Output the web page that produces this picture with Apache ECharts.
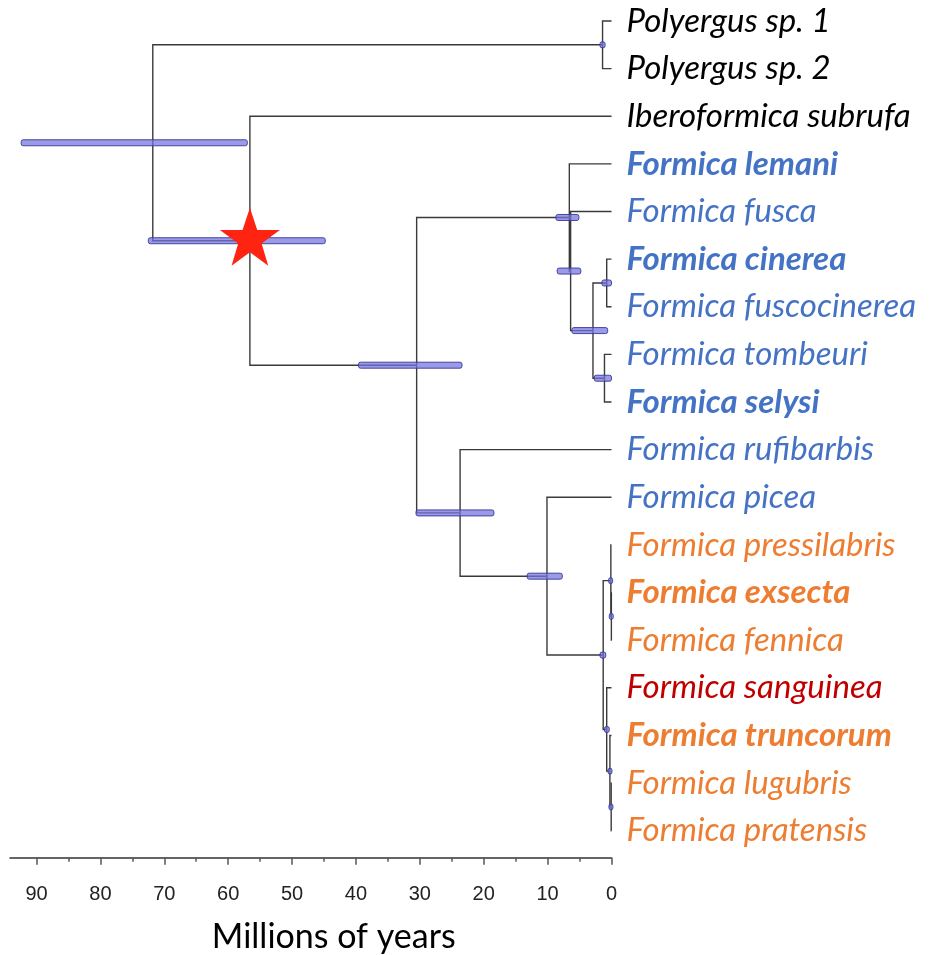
<!DOCTYPE html>
<html>
<head>
<meta charset="utf-8">
<script src="https://cdn.jsdelivr.net/npm/echarts@6/dist/echarts.min.js"></script>
<style>
  html, body { margin: 0; padding: 0; background: #fff; }
  #chart { width: 947px; height: 955px; }
</style>
</head>
<body>
<div id="chart"></div>
<script>
// tips, top to bottom
const leafNames = [
  'Polyergus sp. 1', 'Polyergus sp. 2', 'Iberoformica subrufa',
  'Formica lemani', 'Formica fusca', 'Formica cinerea', 'Formica fuscocinerea',
  'Formica tombeuri', 'Formica selysi', 'Formica rufibarbis', 'Formica picea',
  'Formica pressilabris', 'Formica exsecta', 'Formica fennica', 'Formica sanguinea',
  'Formica truncorum', 'Formica lugubris', 'Formica pratensis'
];
const leafColors = [
  '#000000', '#000000', '#000000',
  '#4472C4', '#4472C4', '#4472C4', '#4472C4', '#4472C4', '#4472C4', '#4472C4', '#4472C4',
  '#ED7D31', '#ED7D31', '#ED7D31', '#C00000', '#ED7D31', '#ED7D31', '#ED7D31'
];
const leafBold = [0, 0, 0, 1, 0, 1, 0, 0, 1, 0, 0, 0, 1, 0, 0, 1, 0, 0];

// internal nodes (ages in Myr), children = leaf index or node name
const nodeNames = ['root', 'P', 'IF', 'F', 'FG1', 'FG2', 'FG3', 'CIN', 'TOM', 'RUF', 'PIC', 'RED', 'PEF', 'EF', 'SANG', 'TR', 'LP'];
const nodeAges  = [71.8, 1.4, 56.6, 30.5, 6.6, 6.4, 2.9, 0.75, 1.1, 23.7, 10.1, 1.3, 0.1, 0.02, 0.75, 0.25, 0.05];
const nodeKids  = [['P', 'IF'], [0, 1], [2, 'F'], ['FG1', 'RUF'], [3, 'FG2'], [4, 'FG3'], ['CIN', 'TOM'], [5, 6], [7, 8],
                   [9, 'PIC'], [10, 'RED'], ['PEF', 'SANG'], [11, 'EF'], [12, 13], [14, 'TR'], [15, 'LP'], [16, 17]];
// 95% HPD bars
const barHigh = [92.4, 1.8, 72.5, 39.6, 8.7, 8.5, 6.2, 1.5, 2.7, 30.6, 13.2, 1.8, 0.45, 0.35, 1.1, 0.55, 0.4];
const barLow  = [57.0, 1.0, 44.8, 23.4, 5.1, 4.8, 0.6, 0.0, 0.0, 18.4, 7.7, 0.9, 0.0, 0.0, 0.35, 0.0, 0.0];

const majorTicks = [0, 10, 20, 30, 40, 50, 60, 70, 80, 90];
const minorTicks = [5, 15, 25, 35, 45, 55, 65, 75, 85];
const starNode = 'IF';

// layout of the tree
const nodeY = {};
function yOf(k) {
  if (typeof k === 'number') return k;
  if (nodeY[k] === undefined) {
    const i = nodeNames.indexOf(k);
    nodeY[k] = (yOf(nodeKids[i][0]) + yOf(nodeKids[i][1])) / 2;
  }
  return nodeY[k];
}
function ageOf(k) {
  return typeof k === 'number' ? 0 : nodeAges[nodeNames.indexOf(k)];
}

const branches = [];
nodeNames.forEach((n, i) => {
  const py = yOf(n);
  nodeKids[i].forEach(k => {
    branches.push({ coords: [[nodeAges[i], py], [nodeAges[i], yOf(k)], [ageOf(k), yOf(k)]] });
  });
});
const bars = nodeNames.map((n, i) => [barHigh[i], barLow[i], yOf(n)]);
const leaves = leafNames.map((name, i) => ({
  value: [0, i],
  name: name,
  label: { color: leafColors[i], fontWeight: leafBold[i] ? 'bold' : 'normal' }
}));

const chart = echarts.init(document.getElementById('chart'));
const ageMax = 94.15;

chart.setOption({
  animation: false,
  grid: { left: 10, right: 335.5, top: 0, bottom: 97.3, outerBoundsMode: 'none', containLabel: false },
  xAxis: [{
    type: 'value', inverse: true, min: 0, max: ageMax, position: 'bottom',
    splitLine: { show: false },
    axisLine: { onZero: false, lineStyle: { color: '#333', width: 1.5 } },
    axisTick: { customValues: majorTicks, length: 7, lineStyle: { color: '#555', width: 1.5 } },
    axisLabel: { customValues: majorTicks, margin: 27, fontSize: 20, color: '#222', fontFamily: 'Liberation Sans' },
    name: 'Millions of years', nameLocation: 'middle', nameGap: 62,
    nameTextStyle: { fontSize: 34, fontFamily: 'Lato', color: '#000', padding: [0, 0, 0, 46] }
  }, {
    type: 'value', inverse: true, min: 0, max: ageMax, position: 'bottom',
    splitLine: { show: false },
    axisLine: { show: false, onZero: false },
    axisTick: { customValues: minorTicks, length: 4, lineStyle: { color: '#555', width: 1.5 } },
    axisLabel: { show: false }
  }],
  yAxis: { type: 'value', inverse: true, min: -0.441, max: 17.567, show: false },
  series: [{
    type: 'lines', coordinateSystem: 'cartesian2d', polyline: true,
    lineStyle: { color: '#3a3a3a', width: 1.4, opacity: 1 },
    data: branches, silent: true
  }, {
    type: 'custom',
    renderItem: function (params, api) {
      const a = api.coord([api.value(0), api.value(2)]);
      const b = api.coord([api.value(1), api.value(2)]);
      const w = Math.max(Math.abs(b[0] - a[0]), 4);
      return {
        type: 'rect',
        shape: { x: Math.min(a[0], b[0]), y: a[1] - 3, width: w, height: 6, r: 2 },
        style: { fill: 'rgba(115,115,225,0.72)', stroke: 'rgba(55,55,150,0.9)', lineWidth: 1 }
      };
    },
    encode: { x: [0, 1], y: 2 },
    data: bars
  }, {
    type: 'scatter',
    symbol: 'path://M50,0 L61.8,35.1 L98.1,35.1 L68.8,56.7 L79.4,91.9 L50,70.5 L20.6,91.9 L31.2,56.7 L1.9,35.1 L38.2,35.1 Z',
    symbolSize: [60, 58], symbolOffset: [0, -4],
    itemStyle: { color: '#FF2412', opacity: 1 },
    data: [[nodeAges[nodeNames.indexOf(starNode)], yOf(starNode)]]
  }, {
    type: 'scatter', symbolSize: 0,
    itemStyle: { opacity: 1 },
    label: {
      show: true, position: 'right', distance: 15,
      formatter: p => p.name,
      fontFamily: 'Lato', fontStyle: 'italic', fontSize: 33
    },
    data: leaves
  }]
});
</script>
</body>
</html>
